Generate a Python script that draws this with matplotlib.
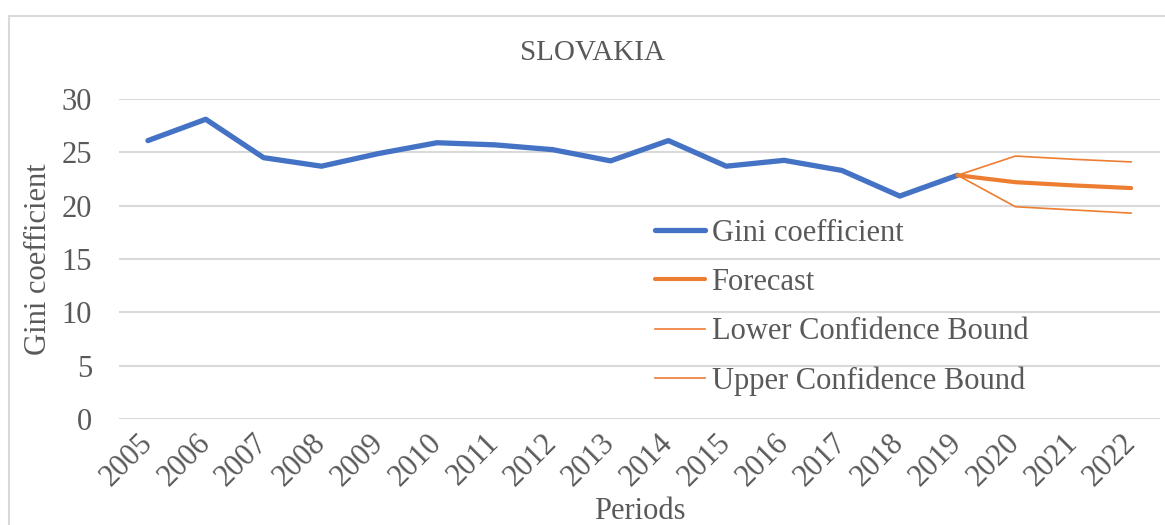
import matplotlib.pyplot as plt
from matplotlib.patches import Rectangle

# --- dades ---
years = ["2005", "2006", "2007", "2008", "2009", "2010", "2011", "2012", "2013",
         "2014", "2015", "2016", "2017", "2018", "2019", "2020", "2021", "2022"]
gini = [26.1, 28.1, 24.5, 23.7, 24.9, 25.9, 25.7, 25.25, 24.2,
        26.1, 23.7, 24.25, 23.3, 20.9, 22.85]
forecast_years = ["2019", "2020", "2021", "2022"]
forecast = [22.85, 22.2, 21.9, 21.65]
lower = [22.85, 19.9, 19.6, 19.3]
upper = [22.85, 24.65, 24.35, 24.1]
yticks = [0, 5, 10, 15, 20, 25, 30]

blue = "#4472C4"
orange = "#ED7D31"
grey_txt = "#595959"
grid_col = "#D9D9D9"

plt.rcParams["font.family"] = ["Liberation Serif", "DejaVu Serif"]

fig = plt.figure(figsize=(11.65, 5.25), dpi=100)
ax = fig.add_axes([119 / 1165, 1 - 419 / 525, 1041 / 1165, 320 / 525])

# marc del gr맍ic
fig.patches.append(Rectangle((9 / 1165, -0.1), 1.2, 1 - 16 / 525 + 0.1,
                             transform=fig.transFigure, fill=False,
                             edgecolor=grid_col, linewidth=1.5))

x_all = list(range(len(years)))
x_gini = x_all[:len(gini)]
x_fc = [years.index(y) for y in forecast_years]

for v in yticks:
    ax.axhline(v, color=grid_col, linewidth=1.5, zorder=0)

ax.plot(x_gini, gini, color=blue, linewidth=3.8, label="Gini coefficient",
        solid_capstyle="round", zorder=3)
ax.plot(x_fc, forecast, color=orange, linewidth=3.0, label="Forecast",
        solid_capstyle="round", zorder=3)
ax.plot(x_fc, lower, color=orange, linewidth=1.2, label="Lower Confidence Bound", zorder=3)
ax.plot(x_fc, upper, color=orange, linewidth=1.2, label="Upper Confidence Bound", zorder=3)

ax.set_xlim(-0.5, len(years) - 0.5)
ax.set_ylim(0, 30)
ax.set_yticks(yticks)
ax.set_xticks(x_all)
ax.set_xticklabels(years, rotation=45, ha="right", va="center", rotation_mode="anchor")
ax.tick_params(axis="both", length=0, labelsize=22, labelcolor=grey_txt)
ax.tick_params(axis="y", pad=19.5)
ax.tick_params(axis="x", pad=14)
for s in ax.spines.values():
    s.set_visible(False)

ax.set_ylabel("Gini coefficient", fontsize=22, color=grey_txt, labelpad=6)
ax.set_xlabel("Periods", fontsize=22, color=grey_txt, labelpad=4)
fig.text(593 / 1165, 1 - 53 / 525, "SLOVAKIA", fontsize=21, color=grey_txt,
         ha="center", va="center")

leg = ax.legend(loc="upper left", bbox_to_anchor=(655 / 1165, 1 - 219 / 525),
                bbox_transform=fig.transFigure, frameon=False, fontsize=22,
                handlelength=1.65, handletextpad=0.2, labelspacing=0.66,
                borderpad=0, borderaxespad=0)
for t in leg.get_texts():
    t.set_color(grey_txt)

fig.savefig("out.png", dpi=100)
